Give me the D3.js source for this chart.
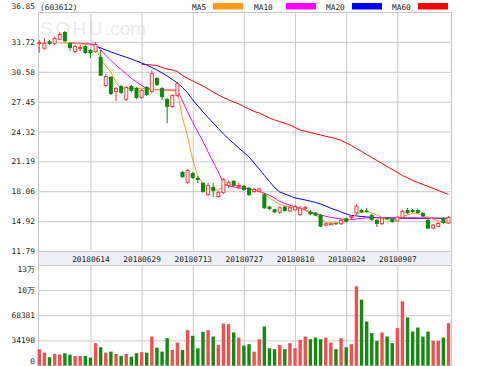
<!DOCTYPE html>
<html>
<head>
<meta charset="utf-8">
<script src="https://cdn.jsdelivr.net/npm/d3@7.9.0/dist/d3.min.js"></script>
<style>
  body { margin: 0; background: #fff; }
  svg { display: block; }
  text { font-family: 'DejaVu Sans Mono', monospace; font-size: 7.8px; fill: #222; }
</style>
</head>
<body>
<svg width="499" height="366"></svg>
<script>
// daily bars, 20180531 .. 20180921 (81 trading days)
const open = [
  33.50, 33.00, 33.78, 33.50, 33.95, 34.75, 33.60, 32.66, 33.00, 33.29,
  32.87, 32.66, 32.13, 29.09, 30.04, 28.46, 29.09, 27.63, 29.09, 28.88,
  27.84, 28.99, 28.46, 29.93, 28.88, 27.73, 26.89, 28.04, 20.08, 18.93,
  19.97, 19.45, 18.93, 17.67, 18.51, 17.46, 17.88, 18.61, 19.14, 18.51,
  18.61, 18.40, 17.98, 18.03, 17.74, 16.44, 16.17, 15.79, 16.44, 15.92,
  16.06, 15.57, 16.20, 15.92, 15.81, 15.57, 14.45, 14.60, 14.70, 14.60,
  15.22, 15.26, 15.74, 16.09, 16.04, 15.57, 15.05, 14.60, 15.29, 15.15,
  14.87, 15.24, 16.09, 16.09, 16.09, 15.78, 15.05, 14.14, 14.31, 15.26,
  14.66];
const close = [
  33.71, 33.60, 33.50, 34.12, 34.54, 33.78, 33.08, 33.29, 33.18, 32.55,
  32.55, 33.50, 30.17, 30.14, 28.25, 28.88, 28.36, 28.99, 28.57, 27.84,
  28.67, 28.15, 30.46, 29.20, 27.94, 26.89, 28.15, 29.41, 19.55, 20.29,
  19.45, 19.24, 17.98, 18.72, 18.09, 17.98, 19.35, 19.03, 18.61, 18.72,
  18.19, 17.67, 18.30, 18.35, 16.27, 16.20, 15.85, 16.38, 15.99, 16.38,
  16.51, 16.34, 16.41, 15.64, 15.50, 14.35, 14.70, 14.70, 14.60, 15.05,
  14.87, 15.47, 16.54, 15.85, 15.88, 15.05, 14.63, 15.29, 15.15, 14.84,
  15.39, 15.99, 15.75, 15.88, 15.78, 15.40, 14.14, 14.56, 14.73, 14.73,
  15.36];
const high = [
  33.95, 34.12, 33.92, 34.23, 34.75, 34.86, 33.71, 33.39, 33.39, 33.39,
  32.97, 33.71, 32.87, 30.35, 30.14, 28.99, 29.20, 29.09, 29.20, 28.99,
  28.78, 29.09, 30.77, 30.04, 28.99, 27.84, 28.25, 29.51, 20.18, 20.39,
  20.08, 19.66, 19.03, 18.93, 18.93, 18.09, 19.45, 19.14, 19.24, 18.93,
  18.72, 18.51, 18.40, 18.45, 17.88, 16.51, 16.20, 16.46, 16.51, 16.46,
  16.67, 16.51, 16.51, 16.09, 15.88, 15.68, 14.78, 14.78, 14.78, 15.15,
  15.31, 15.57, 16.72, 16.20, 16.30, 15.68, 15.15, 15.36, 15.36, 15.26,
  15.47, 16.09, 16.30, 16.20, 16.25, 15.88, 15.15, 14.63, 14.84, 15.36,
  15.47];
const low = [
  32.55, 32.87, 33.39, 33.39, 33.92, 33.71, 32.76, 32.55, 32.76, 32.45,
  32.03, 32.55, 30.14, 28.99, 28.15, 27.52, 28.25, 27.52, 28.46, 27.73,
  27.73, 28.04, 28.36, 29.09, 27.63, 25.21, 26.79, 27.94, 19.45, 18.82,
  19.35, 18.93, 17.88, 17.56, 17.46, 17.35, 17.77, 18.40, 18.51, 18.30,
  18.09, 17.56, 17.88, 17.93, 16.20, 16.09, 15.78, 15.68, 15.88, 15.88,
  15.99, 15.47, 16.09, 15.57, 15.47, 14.31, 14.37, 14.52, 14.52, 14.52,
  14.78, 15.05, 15.57, 15.78, 15.78, 14.94, 14.31, 14.52, 15.05, 14.73,
  14.84, 15.15, 15.68, 15.78, 15.68, 15.36, 14.11, 14.11, 14.31, 14.63,
  14.63];
const volume = [
  22150, 17500, 11200, 15700, 14800, 16700, 14800, 13000, 13000, 13000,
  10700, 30400, 24900, 17500, 18900, 15700, 13000, 15700, 12000, 16700,
  18000, 17500, 39400, 24300, 18900, 37200, 21200, 31200, 21200, 48100,
  40300, 23500, 45800, 48100, 39400, 28000, 57200, 56300, 44900, 38000,
  27100, 29000, 18900, 35800, 53100, 23500, 22200, 28000, 22200, 30400,
  23500, 34900, 39400, 35800, 38000, 35800, 38000, 31200, 22200, 37200,
  24900, 29000, 107800, 89600, 59900, 44000, 33500, 44900, 39400, 30400,
  50900, 87300, 65400, 46200, 51700, 39400, 46200, 33500, 33500, 38000,
  57700];

// moving averages as drawn (null where the line is not shown)
const ma5 = [
  null, null, null, null, 33.60, 33.60, 33.58, 33.55, 33.50, 33.45,
  33.39, 33.29, 31.85, 31.19, 30.56, 29.41, 28.88, 28.83, 28.85, 28.85,
  28.85, 28.80, 28.75, 28.73, 28.67, 28.62, 28.60, 28.52, 25.74, 23.75,
  21.34, 19.66, 18.82, 18.40, 18.24, 18.19, 18.56, 18.72, 18.72, 18.61,
  18.51, 18.37, 18.19, 18.03, 17.77, 17.35, 16.99, 16.67, 16.51, 16.44,
  16.30, 16.15, 16.04, 15.83, 15.57, 15.15, 14.81, 14.71, 14.73, 14.78,
  14.87, 15.20, 15.68, 15.83, 15.92, 15.78, 15.57, 15.31, 15.05, 15.05,
  15.05, 15.41, 15.57, 15.75, 15.68, 15.57, 15.36, 15.12, 14.94, 14.81,
  14.70];
const ma10 = [
  null, null, null, null, null, null, 33.60, 33.58, 33.56, 33.53,
  33.50, 33.45, 32.90, 32.29, 31.77, 31.26, 30.82, 30.35, 29.90, 29.51,
  29.15, 28.83, 28.71, 28.70, 28.68, 28.67, 28.67, 28.65, 27.52, 26.37,
  25.27, 24.27, 23.28, 22.17, 21.13, 20.08, 18.87, 18.61, 18.51, 18.40,
  18.37, 18.30, 18.19, 18.03, 17.85, 17.62, 17.35, 16.99, 16.78, 16.57,
  16.41, 16.27, 16.09, 15.88, 15.73, 15.57, 15.43, 15.31, 15.23, 15.15,
  15.12, 15.10, 15.15, 15.22, 15.25, 15.27, 15.28, 15.28, 15.28, 15.28,
  15.28, 15.28, 15.28, 15.28, 15.27, 15.26, 15.25, 15.24, 15.22, 15.20,
  15.19];
const ma20 = [
  null, null, null, null, null, null, null, null, null, null,
  33.49, 33.29, 33.08, 32.87, 32.66, 32.47, 32.29, 32.10, 31.92, 31.71,
  31.50, 31.30, 31.03, 30.77, 30.46, 30.14, 29.77, 29.41, 28.94, 28.36,
  27.63, 27.00, 26.37, 25.79, 25.21, 24.64, 24.06, 23.54, 23.07, 22.59,
  22.12, 21.65, 21.02, 20.39, 19.71, 19.08, 18.45, 17.98, 17.77, 17.56,
  17.35, 17.25, 17.14, 17.02, 16.88, 16.72, 16.51, 16.27, 16.09, 15.88,
  15.68, 15.52, 15.47, 15.41, 15.36, 15.33, 15.30, 15.27, 15.25, 15.24,
  15.22, 15.22, 15.22, 15.22, 15.22, 15.22, 15.22, 15.22, 15.22, 15.22,
  15.22];
const ma60 = [
  null, null, null, null, null, null, null, null, null, null,
  null, null, null, null, null, null, null, null, null, null,
  31.37, 31.33, 31.29, 31.24, 31.03, 30.87, 30.77, 30.61, 30.19, 29.88,
  29.62, 29.36, 29.09, 28.78, 28.46, 28.15, 27.89, 27.65, 27.42, 27.21,
  26.94, 26.68, 26.42, 26.26, 26.00, 25.74, 25.53, 25.35, 25.18, 25.00,
  24.74, 24.48, 24.34, 24.22, 24.08, 23.96, 23.82, 23.70, 23.56, 23.40,
  23.12, 22.86, 22.54, 22.23, 21.91, 21.60, 21.28, 20.97, 20.65, 20.34,
  20.03, 19.71, 19.45, 19.19, 18.98, 18.77, 18.56, 18.35, 18.14, 17.93,
  17.72];

const priceTicks = [11.79, 14.92, 18.06, 21.19, 24.32, 27.45, 30.58, 33.72, 36.85];
const volTicks = [0, 34190, 68381, 102571, 136762];
const volTickLabels = ['0', '34190', '68381', '10万', '13万'];
const dateTickIdx = [10, 20, 30, 40, 50, 60, 70];
const dateTickLabels = ['20180614', '20180629', '20180713', '20180727', '20180810', '20180824', '20180907'];
const maNames = ['MA5', 'MA10', 'MA20', 'MA60'];
const maColors = ['#ff9a1a', '#ff00ff', '#0000ff', '#ff0000'];

let svg = d3.select('svg');
let plotLeft = 38, plotRight = 452, plotTop = 12, priceBottom = 251, volTop = 265, volBottom = 365.5;
let gridColor = '#c8c8c8';
let upColor = '#ff3a3a', downColor = '#0a8a0a';

let x = d3.scaleLinear().domain([0, open.length - 1]).range([39.3, 448.5]);
let y = d3.scaleLinear().domain([priceTicks[0], priceTicks[priceTicks.length - 1]]).range([priceBottom, plotTop]);
let yVol = d3.scaleLinear().domain([0, volTicks[volTicks.length - 1]]).range([volBottom, volTop]);

// date band between the panels
svg.append('rect')
  .attr('x', plotLeft).attr('y', priceBottom)
  .attr('width', plotRight - plotLeft).attr('height', volTop - priceBottom)
  .attr('fill', '#eef0f5');

// watermark
let mark = svg.append('text')
  .attr('x', 40).attr('y', 35)
  .style('font-family', "'Liberation Sans', Arial, sans-serif")
  .style('font-size', '19px')
  .style('fill', '#ebebeb');
mark.append('tspan').style('letter-spacing', '2.5px').text('SOHU');
mark.append('tspan').text('.com');

// price grid + labels
let yAxis = svg.append('g')
  .attr('transform', `translate(${plotLeft},0)`)
  .call(d3.axisLeft(y).tickValues(priceTicks).tickSize(-(plotRight - plotLeft)).tickPadding(3).tickFormat(d3.format('.2f')));
yAxis.select('.domain').remove();
yAxis.selectAll('.tick line').attr('stroke', gridColor);
yAxis.selectAll('.tick').filter((d) => d === priceTicks[priceTicks.length - 1]).select('text').attr('dy', '-0.5em');

// vertical grid in price panel, date labels in the band
let xAxis = svg.append('g')
  .attr('transform', `translate(0,${priceBottom})`)
  .call(d3.axisBottom(x).tickValues(dateTickIdx).tickSize(-(priceBottom - plotTop)).tickPadding(5)
    .tickFormat((d, i) => dateTickLabels[i]));
xAxis.select('.domain').remove();
xAxis.selectAll('.tick line').attr('stroke', gridColor);

// volume grid + labels
let vAxis = svg.append('g')
  .attr('transform', `translate(${plotLeft},0)`)
  .call(d3.axisLeft(yVol).tickValues(volTicks).tickSize(-(plotRight - plotLeft)).tickPadding(3)
    .tickFormat((d, i) => volTickLabels[i]));
vAxis.select('.domain').remove();
vAxis.selectAll('.tick line').attr('stroke', gridColor);
vAxis.selectAll('.tick').filter((d) => d === volTicks[volTicks.length - 1]).select('text').attr('dy', '0.85em');
vAxis.selectAll('.tick').filter((d) => d === 0).select('text').attr('dy', '-0.2em');

let vxAxis = svg.append('g')
  .attr('transform', `translate(0,${volBottom})`)
  .call(d3.axisBottom(x).tickValues(dateTickIdx).tickSize(-(volBottom - volTop)).tickFormat(''));
vxAxis.select('.domain').remove();
vxAxis.selectAll('.tick line').attr('stroke', gridColor);

// panel frames
[[plotTop, priceBottom], [priceBottom, volTop], [volTop, volBottom]].forEach(([a, b]) => {
  svg.append('rect')
    .attr('x', plotLeft + 0.5).attr('y', a + 0.5)
    .attr('width', plotRight - plotLeft - 1).attr('height', b - a)
    .attr('fill', 'none').attr('stroke', gridColor);
});

let bars = open.map((o, i) => ({ i: i, o: o, c: close[i], h: high[i], l: low[i], v: volume[i], up: close[i] >= o }));

// volume bars
svg.append('g').selectAll('rect')
  .data(bars)
  .join('rect')
  .attr('x', (d) => x(d.i) - 1.7)
  .attr('width', 3.4)
  .attr('y', (d) => yVol(d.v))
  .attr('height', (d) => yVol(0) - yVol(d.v))
  .attr('fill', (d) => d.up ? '#f25050' : '#138a13');

// moving averages
let line = d3.line()
  .defined((d) => d != null)
  .x((d, i) => x(i))
  .y((d) => y(d));
[ma60, ma20, ma10, ma5].forEach((series, k) => {
  svg.append('path')
    .attr('d', line(series))
    .attr('fill', 'none')
    .attr('stroke', maColors[3 - k])
    .attr('stroke-width', 1);
});

// candles
let candles = svg.append('g').selectAll('g')
  .data(bars)
  .join('g');
candles.append('line')
  .attr('x1', (d) => x(d.i)).attr('x2', (d) => x(d.i))
  .attr('y1', (d) => y(d.h)).attr('y2', (d) => y(d.l))
  .attr('stroke', (d) => d.up ? upColor : downColor);
candles.append('rect')
  .attr('x', (d) => d.up ? x(d.i) - 1.5 : x(d.i) - 2)
  .attr('width', (d) => d.up ? 3 : 4)
  .attr('y', (d) => y(Math.max(d.o, d.c)) + (d.up ? 0.5 : 0))
  .attr('height', (d) => Math.max(1, y(Math.min(d.o, d.c)) - y(Math.max(d.o, d.c)) - (d.up ? 1 : 0)))
  .attr('fill', (d) => d.up ? '#fff' : downColor)
  .attr('stroke', (d) => d.up ? upColor : 'none');

// header: code + legend
svg.append('text').attr('x', 40).attr('y', 9.5).text('(603612)');
let legendTextX = [192, 254, 326, 392];
let legendSwatchX = [213, 286, 352, 418];
maNames.forEach((name, k) => {
  svg.append('text').attr('x', legendTextX[k]).attr('y', 9.5).text(name);
  svg.append('rect')
    .attr('x', legendSwatchX[k]).attr('y', 3)
    .attr('width', 30).attr('height', 6.5)
    .attr('fill', maColors[k]);
});
</script>
</body>
</html>
